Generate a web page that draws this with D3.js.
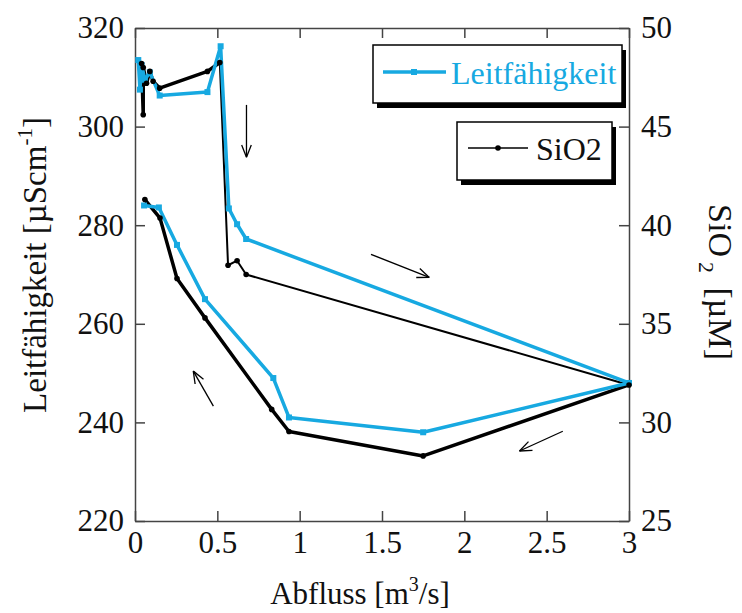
<!DOCTYPE html>
<html>
<head>
<meta charset="utf-8">
<script src="https://cdn.jsdelivr.net/npm/d3@7"></script>
<style>
  body { margin: 0; background: #fff; }
  text { font-family: "Liberation Serif", "Times New Roman", serif; }
</style>
</head>
<body>
<div id="svgcontainer"></div>
<script>
    var width = 742;
    var height = 613;

    // Leitfaehigkeit (left axis), in time order
    var lf_q = [0.02, 0.03, 0.04, 0.06, 0.09, 0.15, 0.44, 0.52, 0.57, 0.62, 0.675, 3.0, 1.75, 0.935, 0.84, 0.425, 0.255, 0.145, 0.055];
    var lf_v = [313.5, 307.5, 312.5, 309.5, 311, 306.3, 307, 316.3, 283.4, 280.2, 277.2, 248, 238, 241, 249, 265, 276, 283.6, 284];

    // SiO2 (right axis), in time order
    var si_q = [0.04, 0.05, 0.05, 0.07, 0.09, 0.11, 0.15, 0.44, 0.515, 0.565, 0.62, 0.675, 3.0, 1.75, 0.935, 0.83, 0.425, 0.255, 0.152, 0.06];
    var si_v = [48.2, 45.6, 48.0, 47.2, 47.8, 47.3, 46.95, 47.8, 48.25, 37.97, 38.2, 37.5, 31.9, 28.3, 29.54, 30.66, 35.3, 37.3, 40.36, 41.3];
    // the falling limb of SiO2 is drawn thin
    var si_thin = [8, 12];

    var x_ticks = [0, 0.5, 1, 1.5, 2, 2.5, 3];
    var yl_ticks = [220, 240, 260, 280, 300, 320];
    var yr_ticks = [25, 30, 35, 40, 45, 50];

    // arrows along the loop, [q1, v1, q2, v2] on the left axis
    var arrows = [[0.677, 304.4, 0.677, 293.8], [1.433, 274.1, 1.787, 269.4], [2.598, 238.2, 2.335, 234.2], [0.476, 243.3, 0.354, 250.4]];

    var cyan = "#17a9e1";

function drawCanvas(){
    var left = 135, right = 629, top = 28, bottom = 521;
    var fs = 31;

    var x = d3.scaleLinear().domain([0, 3]).range([left, right]);
    var yl = d3.scaleLinear().domain([220, 320]).range([bottom, top]);
    var yr = d3.scaleLinear().domain([25, 50]).range([bottom, top]);

    var svg = d3.select("#svgcontainer").append("svg").attr("width", width).attr("height", height);

    // frame with inward ticks
    var ax_b = svg.append("g").attr("transform", "translate(0," + bottom + ")")
        .call(d3.axisBottom(x).tickValues(x_ticks).tickSizeInner(-10).tickSizeOuter(0).tickPadding(10)
        .tickFormat(function(d){ return d; }));
    var ax_t = svg.append("g").attr("transform", "translate(0," + top + ")")
        .call(d3.axisTop(x).tickValues(x_ticks).tickSizeInner(-10).tickSizeOuter(0).tickFormat(""));
    var ax_l = svg.append("g").attr("transform", "translate(" + left + ",0)")
        .call(d3.axisLeft(yl).tickValues(yl_ticks).tickSizeInner(-10).tickSizeOuter(0).tickPadding(11));
    var ax_r = svg.append("g").attr("transform", "translate(" + right + ",0)")
        .call(d3.axisRight(yr).tickValues(yr_ticks).tickSizeInner(-10).tickSizeOuter(0).tickPadding(12));

    [ax_b, ax_t, ax_l, ax_r].forEach(function(a){
        a.selectAll("path, line").attr("stroke", "#444").attr("stroke-width", 1.5);
        a.selectAll("text").attr("font-size", fs + "px").attr("fill", "#111")
            .style("font-family", "'Liberation Serif', 'Times New Roman', serif");
    });

    // lines
    var lf_pts = lf_q.map(function(q, i){ return [x(q), yl(lf_v[i])]; });
    var si_pts = si_q.map(function(q, i){ return [x(q), yr(si_v[i])]; });
    var line = d3.line();

    svg.append("path").attr("d", line(si_pts.slice(0, si_thin[0] + 1)))
        .attr("fill", "none").attr("stroke", "#000").attr("stroke-width", 3.5).attr("stroke-linejoin", "round");
    svg.append("path").attr("d", line(si_pts.slice(si_thin[0], si_thin[1] + 1)))
        .attr("fill", "none").attr("stroke", "#000").attr("stroke-width", 2).attr("stroke-linejoin", "round");
    svg.append("path").attr("d", line(si_pts.slice(si_thin[1])))
        .attr("fill", "none").attr("stroke", "#000").attr("stroke-width", 3.5).attr("stroke-linejoin", "round");

    svg.append("path").attr("d", line(lf_pts))
        .attr("fill", "none").attr("stroke", cyan).attr("stroke-width", 3.5).attr("stroke-linejoin", "round");

    svg.selectAll("rect.lf").data(lf_pts).enter().append("rect").attr("class", "lf")
        .attr("x", function(d){ return d[0] - 3; }).attr("y", function(d){ return d[1] - 3; })
        .attr("width", 6).attr("height", 6).attr("fill", cyan);
    svg.selectAll("circle.si").data(si_pts).enter().append("circle").attr("class", "si")
        .attr("cx", function(d){ return d[0]; }).attr("cy", function(d){ return d[1]; })
        .attr("r", 2.8).attr("fill", "#000");

    // arrows
    arrows.forEach(function(a){
        var x1 = x(a[0]), y1 = yl(a[1]), x2 = x(a[2]), y2 = yl(a[3]);
        var ang = Math.atan2(y2 - y1, x2 - x1);
        var hl = 13, spread = 0.38;
        svg.append("line").attr("x1", x1).attr("y1", y1).attr("x2", x2).attr("y2", y2)
            .attr("stroke", "#000").attr("stroke-width", 1.3);
        [ang + Math.PI - spread, ang + Math.PI + spread].forEach(function(b){
            svg.append("line").attr("x1", x2).attr("y1", y2)
                .attr("x2", x2 + hl * Math.cos(b)).attr("y2", y2 + hl * Math.sin(b))
                .attr("stroke", "#000").attr("stroke-width", 1.3);
        });
    });

    // legends with drop shadow
    function legendBox(bx, by, bw, bh){
        svg.append("rect").attr("x", bx + 4).attr("y", by + 5).attr("width", bw).attr("height", bh).attr("fill", "#000");
        svg.append("rect").attr("x", bx).attr("y", by).attr("width", bw).attr("height", bh)
            .attr("fill", "#fff").attr("stroke", "#000").attr("stroke-width", 1.5);
    }
    legendBox(373, 45, 249, 58);
    svg.append("line").attr("x1", 383).attr("y1", 72).attr("x2", 446).attr("y2", 72)
        .attr("stroke", cyan).attr("stroke-width", 3.5);
    svg.append("rect").attr("x", 411).attr("y", 69).attr("width", 6).attr("height", 6).attr("fill", cyan);
    svg.append("text").attr("x", 451).attr("y", 84).attr("font-size", "32px").attr("fill", cyan).text("Leitfähigkeit");

    legendBox(457, 122, 155, 58);
    svg.append("line").attr("x1", 468).attr("y1", 148).attr("x2", 528).attr("y2", 148)
        .attr("stroke", "#000").attr("stroke-width", 1.5);
    svg.append("circle").attr("cx", 498).attr("cy", 148).attr("r", 2.8).attr("fill", "#000");
    svg.append("text").attr("x", 536).attr("y", 160).attr("font-size", "32px").attr("fill", "#111").text("SiO2");

    // axis titles
    var tl = svg.append("text").attr("transform", "translate(46,265) rotate(-90)")
        .attr("text-anchor", "middle").attr("font-size", "33px").attr("fill", "#111");
    tl.append("tspan").text("Leitfähigkeit [µScm");
    tl.append("tspan").attr("font-size", "21px").attr("dy", -14).text("-1");
    tl.append("tspan").attr("dy", 14).text("]");

    var tr = svg.append("text").attr("transform", "translate(709,282) rotate(90)")
        .attr("text-anchor", "middle").attr("font-size", "34px").attr("fill", "#111");
    tr.append("tspan").text("SiO");
    tr.append("tspan").attr("font-size", "22px").attr("dy", 10).attr("dx", 5).text("2");
    tr.append("tspan").attr("dy", -10).attr("dx", 6).text(" [µM]");

    var tb = svg.append("text").attr("x", 360).attr("y", 604)
        .attr("text-anchor", "middle").attr("font-size", fs + "px").attr("fill", "#111");
    tb.append("tspan").text("Abfluss [m");
    tb.append("tspan").attr("font-size", "20px").attr("dy", -13).text("3");
    tb.append("tspan").attr("dy", 13).text("/s]");
}
drawCanvas();
</script>
</body>
</html>
